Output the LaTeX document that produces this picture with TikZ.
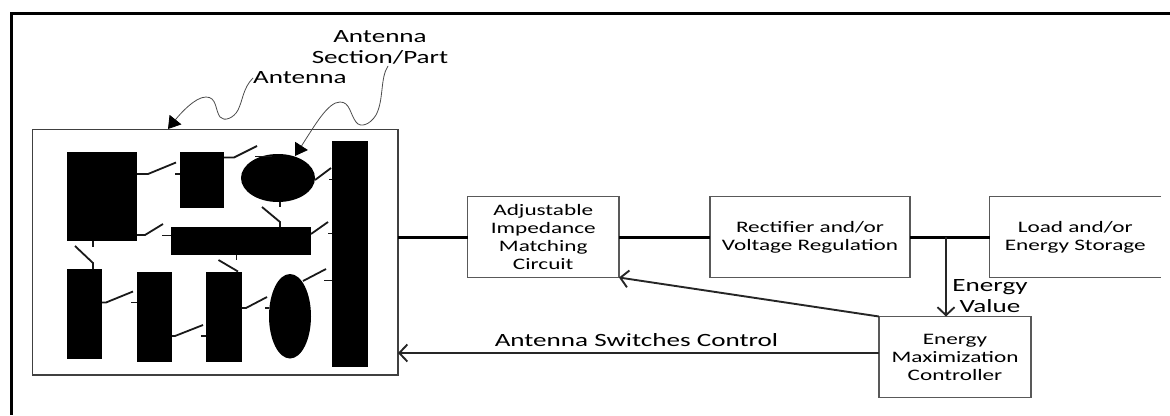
\documentclass[tikz,border=0pt]{standalone}
\usepackage{fontspec}
\setmainfont[FakeStretch=1.45]{Carlito}
\usetikzlibrary{arrows.meta}
\usetikzlibrary{calc}

\begin{document}
\begin{tikzpicture}[
			x=1pt, y=-1pt,
			patch/.style  = {rectangle, fill=black, inner sep=0pt, outer sep=0pt},
			block/.style  = {rectangle, draw=black!65, line width=1.1pt, inner sep=0pt, outer sep=0pt, align=center, font=\fontsize{16}{18}\selectfont},
			label/.style  = {inner sep=0pt, align=center, font=\fontsize{18.7}{21}\selectfont},
			switch/.style = {line width=1.8pt, black!90},
			bus/.style    = {line width=3pt},
			ctrl/.style   = {-{Straight Barb[length=8pt,width=17pt]}, line width=1.9pt, black!85},
			callout/.style = {-{Triangle[length=12pt,width=15pt,black]}, line width=0.8pt, black!70}
			]
			\useasboundingbox (0,0) rectangle (1170,415);

			% page frame
			\draw[line width=3pt] (1170,13) -- (11,13) -- (11,415);

			% antenna board
			\node[block, draw=black!75, minimum width=365.5pt, minimum height=245.5pt] (board) at (215.25,252.25) {};

			% antenna sections
			\foreach \name/\x/\y/\w/\h in {r1/102/196.5/70/89, r2/202/180/44/56, tall/349.75/253.75/35.5/226.5,
					wide/241/241/140/28, r3/84.5/313.75/35/89.5, r4/154.25/316.5/35.5/90, r5/223.75/316.5/35.5/90}
			\node[patch, minimum width=\w pt, minimum height=\h pt] (\name) at (\x,\y) {};
			\fill (278,178) ellipse (37 and 24);
			\fill (290,316.25) ellipse (21 and 42.25);

			% switches
			\foreach \ax/\ay/\bx/\by/\cx/\cy in {137/174/148/174/176/162.5, 224/157.5/234/157.5/257/146, 262/207/280/222/280/227,
					137/235/145/235/163/224, 75/246/93/263/93/269, 102/302.5/106/302.5/133/291.5,
					172/336/175/336/203/325, 241.5/308/246/308/267/297}
			\draw[switch] (\ax,\ay) -- (\bx,\by) -- (\cx,\cy);
			\foreach \ax/\ay/\bx/\by in {175/174/180/174, 255/156.5/272/156.5, 315/180/331/168, 329/179.5/332/179.5,
					280/202/280/207, 162/235.5/171/235.5, 311/234/328/222, 328/233.5/332/233.5, 93/241/93/247,
					131/302.5/136.5/302.5, 236.5/255/236.5/260, 218.5/260/238/271.5, 201/336/206/336,
					265/308/269/308, 303/281/326/269, 324/280.5/332/280.5}
			\draw[switch] (\ax,\ay) -- (\bx,\by);

			% blocks
			\node[block, minimum width=151.5pt, minimum height=81pt] (matching) at (543.25,237) {Adjustable\\Impedance\\Matching\\Circuit};
			\node[block, minimum width=200pt, minimum height=81pt] (rectifier) at (810,237) {Rectifier and/or\\Voltage Regulation};
			\node[block, draw=none, minimum width=171.5pt, minimum height=81pt] (load) at (1075.25,237) {Load and/or\\Energy Storage};
			\node[block, minimum width=152pt, minimum height=81pt] (controller) at (955,357) {Energy\\Maximization\\Controller};
			\draw[black!65, line width=1.1pt] (load.north east) -- (load.north west) -- (load.south west) -- (load.south east);

			% labels
			\node[label, anchor=west] (antennaLabel) at (253,78) {Antenna};
			\node[label] (sectionLabel) at (380,47) {Antenna\\Section/Part};
			\node[label, anchor=south] (switchLabel) at (636.5,347) {Antenna Switches Control};
			\node[label, anchor=north] (valueLabel) at (990,279) {Energy\\Value};

			% connectors
			\coordinate (tap) at (946,237);
			\coordinate (ctrlEnd) at (879,353);
			\draw[bus] (board.east |- matching.west) -- (matching.west);
			\draw[bus] (matching.east) -- (rectifier.west);
			\draw[bus] (rectifier.east) -- (load.west);
			\draw[ctrl] (tap) -- (tap |- controller.north);
			\draw[ctrl] (controller.north west) -- (matching.south east);
			\draw[ctrl] (ctrlEnd) -- (board.east |- ctrlEnd);

			% callouts
			\coordinate (boardTop) at (168,129);
			\coordinate (ovalTop) at (295,156);
			\coordinate (sectionFoot) at (388,66);
			\draw[callout] (antennaLabel.west) .. controls (243,88) and (243,100) .. (238,110)
				.. controls (234,118) and (224,122) .. (220,117)
				.. controls (215,110) and (217,97) .. (206,97)
				.. controls (195,97) and (180,114) .. (boardTop);
			\draw[callout] (sectionFoot) .. controls (380,78) and (384,100) .. (376,115)
				.. controls (370,125) and (360,128) .. (356,122)
				.. controls (350,114) and (350,102) .. (340,102)
				.. controls (328,102) and (315,125) .. (ovalTop);
		\end{tikzpicture}
\end{document}
